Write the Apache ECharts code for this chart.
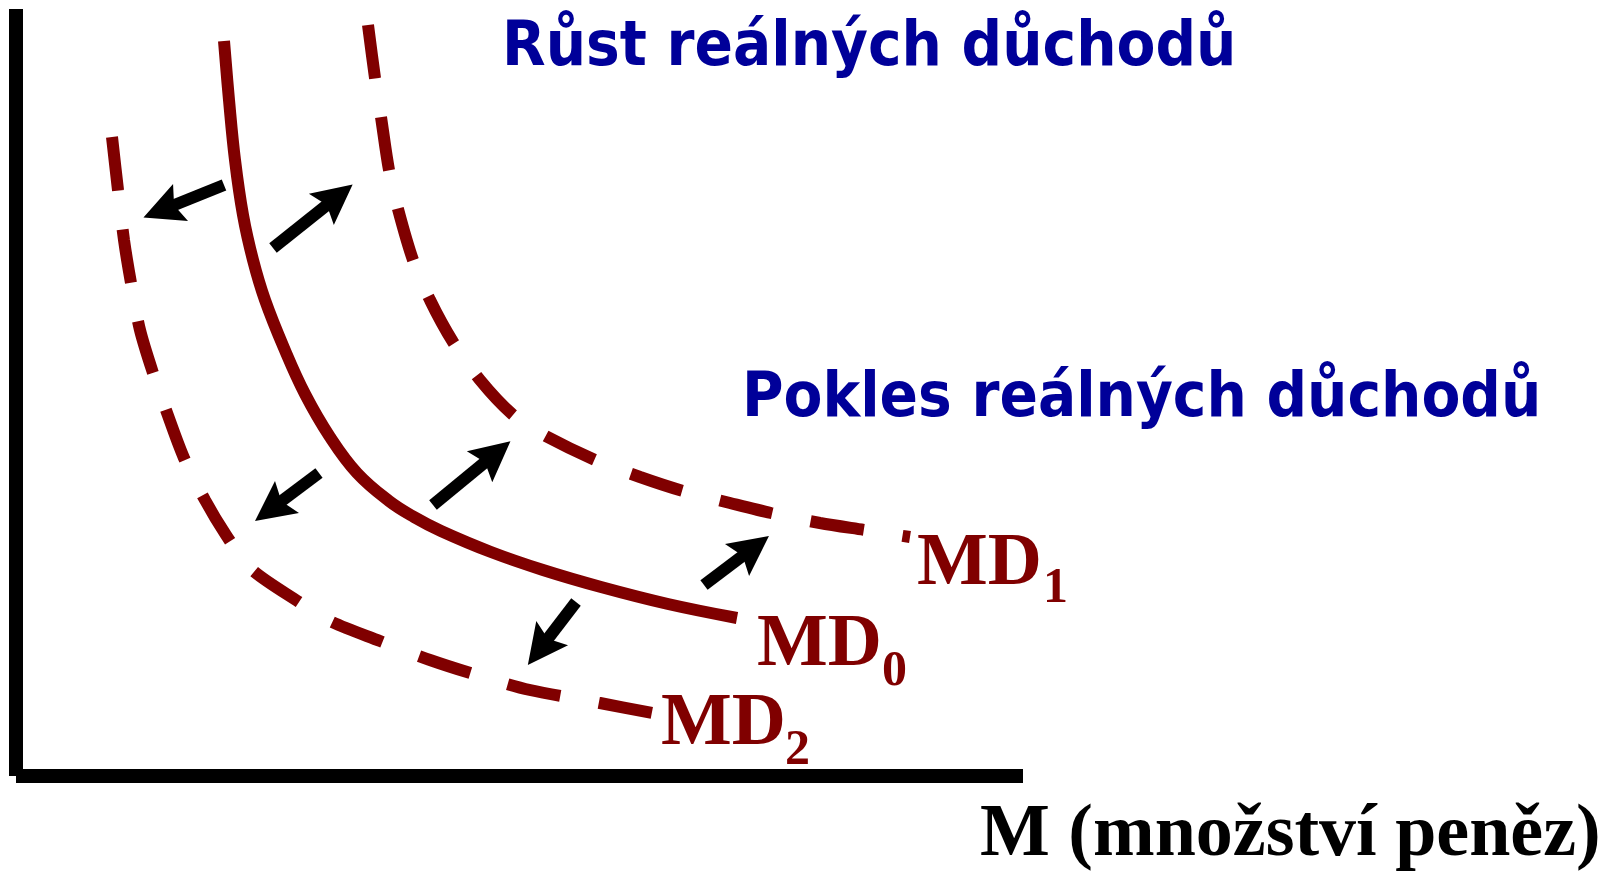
<!DOCTYPE html>
<html>
<head>
<meta charset="utf-8">
<title>Poptávka po penězích</title>
<script src="https://cdn.jsdelivr.net/npm/echarts@6/dist/echarts.min.js"></script>
<style>
  html, body { margin: 0; padding: 0; background: #fff; }
  #main { width: 1623px; height: 872px; }
</style>
</head>
<body>
<div id="main"></div>
<script>
// krivky poptavky po penezich (x = mnozstvi penez, y = urokova mira), jednotky od pocatku
var md0 = [[208, 735], [213, 676], [219, 616], [227, 561], [237, 516], [249, 476], [268, 428],
  [289, 382], [314, 339], [341, 303], [373, 275], [398, 259], [425, 245], [475, 224],
  [527, 206], [585, 189], [652, 172], [721, 158]];
var md1 = [[352, 751], [359, 698], [365, 659], [373, 606], [382, 567], [397, 516], [414, 476],
  [437, 434], [464, 396], [496, 362], [524, 343], [579, 316], [624, 299], [667, 285],
  [714, 273], [755, 263], [804, 253], [849, 246], [894, 239]];
var md2 = [[96, 639], [102, 586], [108, 536], [115, 493], [124, 446], [137, 403], [150, 366],
  [168, 318], [189, 276], [210, 241], [234, 208], [283, 174], [314, 155], [364, 135],
  [414, 116], [464, 100], [514, 86], [584, 73], [636, 63]];

// sipky posunu: odkud -> kam
var arrowFrom = [[208, 591], [257, 528], [303, 303], [417, 271], [688, 191], [560, 174]];
var arrowTo = [[146, 566], [321, 579], [255, 267], [479, 322], [737, 228], [524, 127]];

var curveNames = ['MD', 'MD', 'MD'];
var curveSubs = ['0', '1', '2'];
var titleUp = 'Růst reálných důchodů';
var titleDown = 'Pokles reálných důchodů';
var axisName = 'M (množství peněz)';

var red = '#800000';
var blue = '#000099';
var dash = [54, 39];
var arrowHead = 'path://M20,0 L40,40 L20,33 L0,40 Z';

var chart = echarts.init(document.getElementById('main'));

var arrowData = [];
for (var i = 0; i < arrowFrom.length; i++) {
  arrowData.push({ coords: [arrowFrom[i], arrowTo[i]] });
}

function serifText(x, y, size, text, color) {
  return {
    type: 'text',
    x: x,
    y: y,
    silent: true,
    style: {
      text: text,
      font: 'bold ' + size + 'px "Liberation Serif", "Times New Roman", serif',
      fill: color,
      align: 'left',
      verticalAlign: 'middle'
    }
  };
}

function sansText(x, y, text) {
  return {
    type: 'text',
    x: x,
    y: y,
    silent: true,
    style: {
      text: text,
      font: 'bold 63px "DejaVu Sans Condensed", "DejaVu Sans", sans-serif',
      fill: blue,
      align: 'left',
      verticalAlign: 'middle'
    }
  };
}

var axisStyle = { color: '#000', width: 14, cap: 'butt' };

var option = {
  backgroundColor: '#fff',
  animation: false,
  grid: { left: 16, top: 9, right: 600, bottom: 96 },
  xAxis: {
    type: 'value',
    min: 0,
    max: 1007,
    axisLine: { show: true, onZero: false, lineStyle: axisStyle },
    axisTick: { show: false },
    axisLabel: { show: false },
    splitLine: { show: false }
  },
  yAxis: {
    type: 'value',
    min: 0,
    max: 767,
    axisLine: { show: true, onZero: false, lineStyle: axisStyle },
    axisTick: { show: false },
    axisLabel: { show: false },
    splitLine: { show: false }
  },
  series: [
    {
      name: 'MD0',
      type: 'line',
      data: md0,
      smooth: 0.4,
      symbol: 'none',
      lineStyle: { color: red, width: 12 }
    },
    {
      name: 'MD1',
      type: 'line',
      data: md1,
      smooth: 0.3,
      symbol: 'none',
      lineStyle: { color: red, width: 12, type: dash }
    },
    {
      name: 'MD2',
      type: 'line',
      data: md2,
      smooth: 0.3,
      symbol: 'none',
      lineStyle: { color: red, width: 12, type: dash }
    },
    {
      name: 'posun',
      type: 'lines',
      coordinateSystem: 'cartesian2d',
      data: arrowData,
      symbol: ['none', arrowHead],
      symbolSize: 40,
      lineStyle: { color: '#000', width: 12, opacity: 1, curveness: 0 },
      silent: true
    }
  ],
  graphic: [
    sansText(502, 49, titleUp),
    sansText(742, 400, titleDown),
    serifText(757, 646, 75, curveNames[0], red),
    serifText(882, 672, 50, curveSubs[0], red),
    serifText(917, 565, 75, curveNames[1], red),
    serifText(1043, 589, 50, curveSubs[1], red),
    serifText(661, 725, 75, curveNames[2], red),
    serifText(785, 751, 50, curveSubs[2], red),
    serifText(980, 836, 74, axisName, '#000')
  ]
};

chart.setOption(option);
</script>
</body>
</html>
